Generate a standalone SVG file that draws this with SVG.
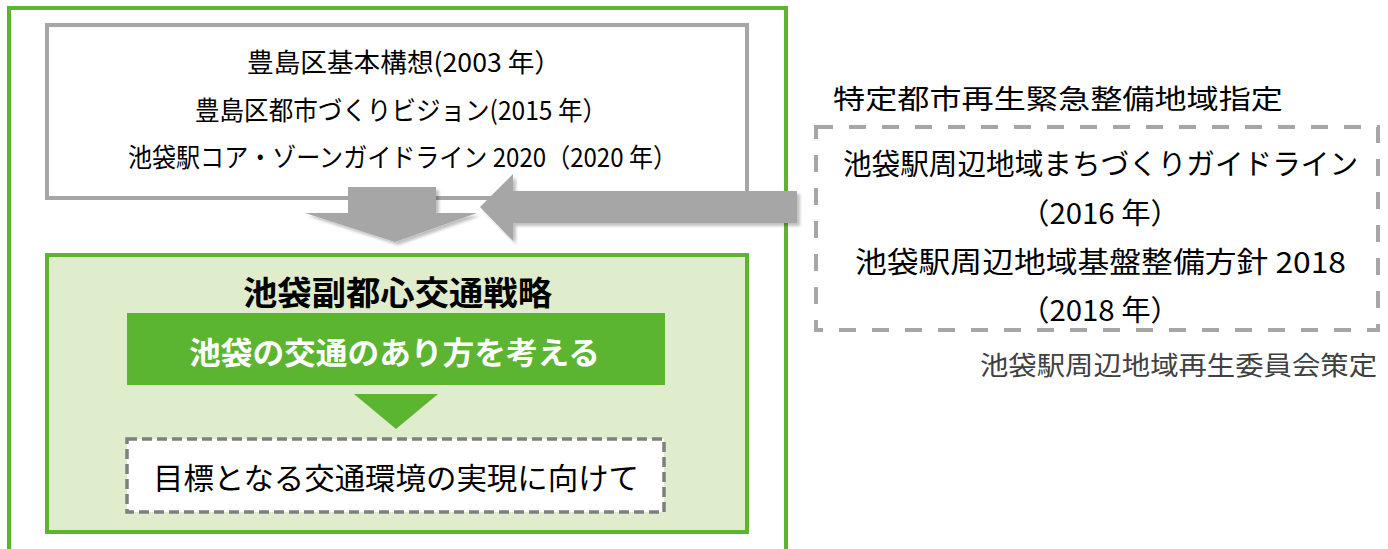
<svg xmlns="http://www.w3.org/2000/svg" width="1388" height="549" viewBox="0 0 1388 549">
  <style>
    .t { font-family: "Noto Sans CJK JP", "Noto Sans", sans-serif; fill: #000; dominant-baseline: central; text-anchor: middle; }
    .green { stroke: #5CB531; stroke-width: 4; }
    .arrow { fill: #A6A6A6; }
  </style>
  <defs>
    <filter id="shadow" x="-10%" y="-20%" width="130%" height="160%">
      <feGaussianBlur in="SourceAlpha" stdDeviation="1.5"/>
      <feOffset dx="3" dy="3" result="b"/>
      <feComponentTransfer><feFuncA type="linear" slope="0.25"/></feComponentTransfer>
      <feMerge><feMergeNode/><feMergeNode in="SourceGraphic"/></feMerge>
    </filter>
  </defs>
  <rect width="1388" height="549" fill="#fff"/>

  <g id="outer-frame">
    <rect x="9" y="8" width="777" height="560" fill="none" class="green"/>
  </g>

  <g id="plans-box">
    <rect x="47" y="25" width="700" height="173" fill="#fff" stroke="#A6A6A6" stroke-width="4"/>
    <text class="t" x="404" y="60" font-size="26" textLength="314" lengthAdjust="spacingAndGlyphs">豊島区基本構想(2003 年）</text>
    <text class="t" x="401" y="108.5" font-size="26" textLength="412" lengthAdjust="spacingAndGlyphs">豊島区都市づくりビジョン(2015 年）</text>
    <text class="t" x="402.5" y="155" font-size="26" textLength="549" lengthAdjust="spacingAndGlyphs">池袋駅コア・ゾーンガイドライン 2020（2020 年）</text>
  </g>

  <g id="strategy-box">
    <rect x="47" y="255" width="700" height="277" fill="#DFEDCD" class="green"/>
    <text class="t" x="397.5" y="291" font-size="33" font-weight="bold" textLength="309" lengthAdjust="spacingAndGlyphs">池袋副都心交通戦略</text>
  </g>

  <g id="think-box">
    <rect x="127" y="313" width="538" height="72" fill="#5CB531"/>
    <text class="t" x="394.5" y="350.5" font-size="31" font-weight="bold" style="fill:#fff" textLength="411" lengthAdjust="spacingAndGlyphs">池袋の交通のあり方を考える</text>
  </g>

  <g id="goal-box">
    <rect x="127" y="439" width="537" height="73" fill="#fff" stroke="#7F7F7F" stroke-width="3.5" stroke-dasharray="10 5"/>
    <text class="t" x="396" y="475.5" font-size="30" textLength="486" lengthAdjust="spacingAndGlyphs">目標となる交通環境の実現に向けて</text>
  </g>

  <g id="designation-title">
    <text class="t" x="1058" y="97.5" font-size="27" textLength="450" lengthAdjust="spacingAndGlyphs">特定都市再生緊急整備地域指定</text>
  </g>

  <g id="guideline-box">
    <rect x="816" y="127" width="562" height="203" fill="#fff" stroke="#A6A6A6" stroke-width="4" stroke-dasharray="17 16"/>
    <text class="t" x="1100.5" y="161.5" font-size="29" textLength="515" lengthAdjust="spacingAndGlyphs">池袋駅周辺地域まちづくりガイドライン</text>
    <text class="t" x="1100" y="210.5" font-size="29" textLength="160" lengthAdjust="spacingAndGlyphs">（2016 年）</text>
    <text class="t" x="1100.5" y="259.5" font-size="29" textLength="491" lengthAdjust="spacingAndGlyphs">池袋駅周辺地域基盤整備方針 2018</text>
    <text class="t" x="1100" y="307.5" font-size="29" textLength="160" lengthAdjust="spacingAndGlyphs">（2018 年）</text>
  </g>

  <g id="committee-note">
    <text class="t" x="1178.5" y="363.5" font-size="26" style="fill:#404040" textLength="397" lengthAdjust="spacingAndGlyphs">池袋駅周辺地域再生委員会策定</text>
  </g>

  <g id="connectors">
    <polygon class="arrow" filter="url(#shadow)" points="348,187 436,187 436,213 477,213 395,242 305,213 348,213"/>
    <polygon class="arrow" filter="url(#shadow)" points="797,191 513,191 513,174 480,207 513,241 513,223 797,223"/>
    <polygon fill="#5CB531" points="354,394 438,394 396,429"/>
  </g>
</svg>
